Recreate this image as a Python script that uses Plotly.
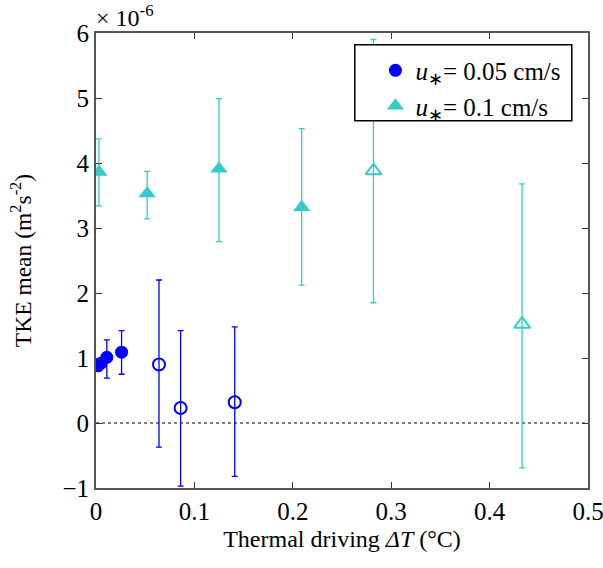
import plotly.graph_objects as go

# Data (TKE in units of 1e-6 m^2 s^-2)
blue_fill_x = [0.002, 0.005, 0.011, 0.026]
blue_fill_y = [0.88, 0.92, 1.01, 1.09]
blue_fill_up = [0.02, 0.02, 0.27, 0.33]
blue_fill_dn = [0.02, 0.02, 0.32, 0.34]

blue_open_x = [0.064, 0.086, 0.141]
blue_open_y = [0.90, 0.23, 0.32]
blue_open_up = [1.30, 1.19, 1.16]
blue_open_dn = [1.27, 1.20, 1.14]

cyan_fill_x = [0.003, 0.052, 0.125, 0.209]
cyan_fill_y = [3.86, 3.53, 3.91, 3.32]
cyan_fill_up = [0.51, 0.34, 1.08, 1.21]
cyan_fill_dn = [0.52, 0.39, 1.12, 1.20]

cyan_open_x = [0.282, 0.433]
cyan_open_y = [3.88, 1.52]
cyan_open_up = [2.02, 2.16]
cyan_open_dn = [2.03, 2.21]

x_ticks = [0, 0.1, 0.2, 0.3, 0.4, 0.5]
x_tick_labels = ["0", "0.1", "0.2", "0.3", "0.4", "0.5"]
y_ticks = [-1, 0, 1, 2, 3, 4, 5, 6]

BLUE = "#0000FF"
CYAN = "#33CCCC"
FONT = "Liberation Serif"

fig = go.Figure()

def err(up, dn, color):
    return dict(type="data", symmetric=False, array=up, arrayminus=dn,
                color=color, thickness=1.3, width=3)

fig.add_trace(go.Scatter(
    x=[-1, 1], y=[0, 0], mode="lines",
    line=dict(color="#555555", width=1.5, dash="dot"),
    showlegend=False, hoverinfo="skip"))

fig.add_trace(go.Scatter(
    x=blue_fill_x, y=blue_fill_y, mode="markers",
    marker=dict(symbol="circle", size=13, color=BLUE),
    error_y=err(blue_fill_up, blue_fill_dn, BLUE),
    name="<i>u</i><sub>∗</sub>= 0.05 cm/s"))
fig.add_trace(go.Scatter(
    x=blue_open_x, y=blue_open_y, mode="markers",
    marker=dict(symbol="circle-open", size=12, color=BLUE, line=dict(width=2)),
    error_y=err(blue_open_up, blue_open_dn, BLUE),
    showlegend=False))
fig.add_trace(go.Scatter(
    x=cyan_fill_x, y=cyan_fill_y, mode="markers",
    marker=dict(symbol="triangle-up", size=15, color=CYAN),
    error_y=err(cyan_fill_up, cyan_fill_dn, CYAN),
    name="<i>u</i><sub>∗</sub>= 0.1 cm/s"))
fig.add_trace(go.Scatter(
    x=cyan_open_x, y=cyan_open_y, mode="markers",
    marker=dict(symbol="triangle-up-open", size=14, color=CYAN, line=dict(width=2)),
    error_y=err(cyan_open_up, cyan_open_dn, CYAN),
    showlegend=False))

axis_common = dict(
    showline=True, linecolor="#555555", linewidth=1.8, mirror="ticks",
    ticks="inside", ticklen=6, tickcolor="#333333", tickwidth=1.2,
    showgrid=False, zeroline=False, automargin=False,
    ticklabeloverflow="allow",
    tickfont=dict(family=FONT, size=25, color="black"),
)

fig.update_layout(
    width=603, height=568,
    margin=dict(l=96, r=15, t=33, b=80),
    paper_bgcolor="white", plot_bgcolor="white",
    font=dict(family=FONT, size=24, color="black"),
    xaxis=dict(range=[0, 0.5], tickvals=x_ticks, ticktext=x_tick_labels,
               title=dict(text="Thermal driving <i>ΔT</i> (°C)", standoff=6,
                          font=dict(family=FONT, size=24)),
               **axis_common),
    yaxis=dict(range=[-1, 6], tickvals=y_ticks,
               title=dict(text="TKE mean (m<sup>2</sup>s<sup>-2</sup>)", standoff=24,
                          font=dict(family=FONT, size=23.5)),
               **axis_common),
    legend=dict(x=0.568, y=0.968, xanchor="left", yanchor="top",
                borderwidth=0, bgcolor="rgba(0,0,0,0)",
                font=dict(family=FONT, size=25),
                itemsizing="trace", tracegroupgap=0),
    showlegend=True,
    shapes=[dict(type="rect", xref="paper", yref="paper",
                 x0=0.526, x1=0.967, y0=0.807, y1=0.974,
                 line=dict(color="black", width=1.5), fillcolor="white",
                 layer="above")],
    annotations=[dict(text="× 10<sup>-6</sup>", xref="paper", yref="paper",
                      x=-0.005, y=1.0, xanchor="left", yanchor="bottom",
                      showarrow=False, font=dict(family=FONT, size=24))],
)

fig.write_html("out.html")
